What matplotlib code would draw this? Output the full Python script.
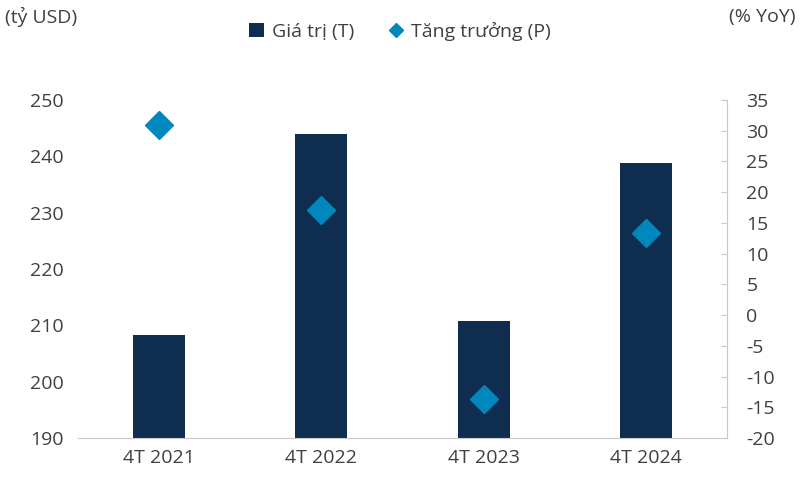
import matplotlib.pyplot as plt
from matplotlib.lines import Line2D
from matplotlib.patches import Patch

plt.rcParams['font.family'] = ['Open Sans', 'DejaVu Sans']
plt.rcParams['axes.unicode_minus'] = False

categories = ["4T 2021", "4T 2022", "4T 2023", "4T 2024"]
values = [208.3, 243.9, 210.8, 238.8]        # tỷ USD
growth = [31.0, 17.1, -13.6, 13.3]           # % YoY

bar_color = "#0e2d4f"
dot_color = "#0087bd"
text_color = "#404040"
axis_color = "#c8c8c8"

fig = plt.figure(figsize=(8, 4.8), dpi=100)
ax = fig.add_axes([0.0975, 0.0875, 0.8113, 0.7042])
ax2 = ax.twinx()

x = range(len(categories))
ax.bar(x, values, width=0.32, color=bar_color, zorder=2)
ax2.plot(x, growth, linestyle="none", marker="D", markersize=14,
         color=dot_color, zorder=3)

ax.set_xlim(-0.5, len(categories) - 0.5)
ax.set_ylim(190, 250)
ax.set_yticks(range(190, 251, 10))
ax2.set_ylim(-20, 35)
ax2.set_yticks(range(-20, 36, 5))

ax.set_xticks(list(x))
ax.set_xticklabels(categories)

for a in (ax, ax2):
    for s in a.spines.values():
        s.set_visible(False)
ax.spines["bottom"].set_visible(True)
ax.spines["bottom"].set_color(axis_color)
ax2.spines["right"].set_visible(True)
ax2.spines["right"].set_color(axis_color)

ax.tick_params(axis="y", length=0, labelsize=14, labelcolor=text_color, pad=10)
ax.tick_params(axis="x", length=0, labelsize=14, labelcolor=text_color, pad=8)
ax2.tick_params(axis="y", direction="in", length=4, color=axis_color,
                labelsize=14, labelcolor=text_color, pad=14)
ax2.set_zorder(ax.get_zorder() + 1)

fig.text(0.006, 0.965, "(tỷ USD)", fontsize=14, color=text_color, va="center")
fig.text(0.994, 0.965, "(% YoY)", fontsize=14, color=text_color, va="center", ha="right")

# legend: square for bars, small diamond for growth
handles = [
    Patch(facecolor=bar_color, label="Giá trị (T)"),
    Line2D([], [], linestyle="none", marker="D", markersize=7,
           color=dot_color, label="Tăng trưởng (P)"),
]
fig.legend(handles=handles, loc="center", bbox_to_anchor=(0.5, 0.935), ncol=2,
           frameon=False, fontsize=14, labelcolor=text_color,
           handlelength=0.75, handleheight=0.75, handletextpad=0.4,
           columnspacing=1.8)

fig.savefig("out.png", dpi=100)
